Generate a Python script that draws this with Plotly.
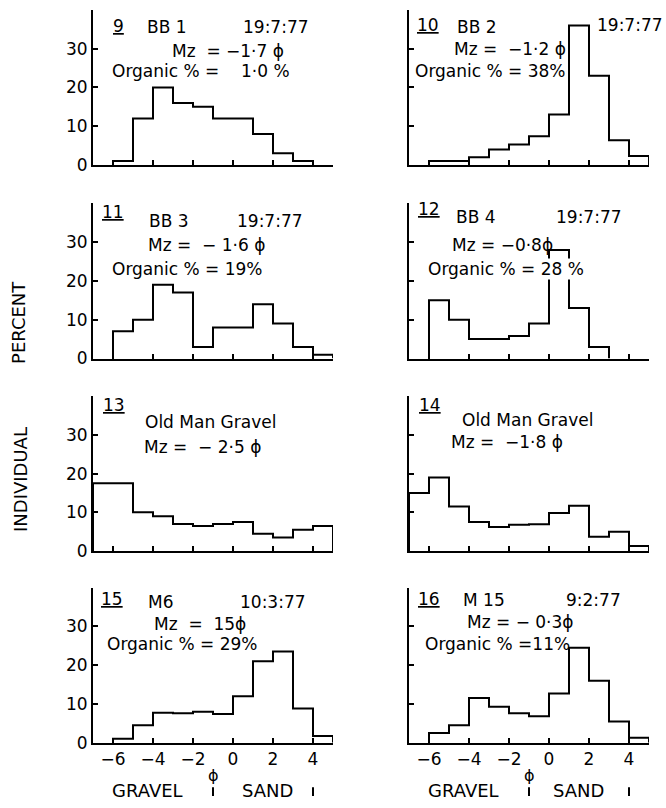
import plotly.graph_objects as go

W, H = 666, 808

# ---------------- data ----------------
panel_ids = ["9", "10", "11", "12", "13", "14", "15", "16"]
sites = ["BB 1", "BB 2", "BB 3", "BB 4", "Old Man Gravel", "Old Man Gravel", "M6", "M 15"]
dates = ["19:7:77", "19:7:77", "19:7:77", "19:7:77", "", "", "10:3:77", "9:2:77"]
mz_text = ["Mz  = −1·7 ϕ", "Mz =  −1·2 ϕ", "Mz =  − 1·6 ϕ", "Mz = −0·8ϕ",
           "Mz =  − 2·5 ϕ", "Mz =  −1·8 ϕ", "Mz  =  15ϕ", "Mz = − 0·3ϕ"]
organic_text = ["Organic % =    1·0 %", "Organic % = 38%", "Organic % = 19%",
                "Organic % = 28 %", "", "", "Organic % = 29%", "Organic % =11%"]

# lower phi edge of first class, and percent in each 1-phi class
p9_start, p9_vals = -6, [1, 12, 20, 16, 15, 12, 12, 8, 3, 1]
p10_start, p10_vals = -6, [1, 1, 2, 4, 5.3, 7.4, 13, 36, 23, 6.4, 2.3]
p11_start, p11_vals = -6, [7, 10, 19, 17, 3, 8, 8, 14, 9, 3, 1]
p12_start, p12_vals = -6, [15, 10, 5, 5, 5.8, 9, 28, 13, 3]
p13_start, p13_vals = -7, [17.5, 17.5, 10, 9, 7, 6.5, 7, 7.5, 4.5, 3.5, 5.5, 6.5]
p14_start, p14_vals = -7, [15, 19, 11.5, 7.5, 6.2, 6.8, 6.9, 9.8, 11.7, 3.7, 5, 1.3]
p15_start, p15_vals = -6, [1, 4.5, 7.7, 7.6, 8, 7.4, 12, 21, 23.5, 8.8, 1.7]
p16_start, p16_vals = -6, [2.5, 4.5, 11.5, 9.3, 7.6, 6.8, 12.7, 24.5, 16, 5.5, 1.3]

starts = [p9_start, p10_start, p11_start, p12_start, p13_start, p14_start, p15_start, p16_start]
values = [p9_vals, p10_vals, p11_vals, p12_vals, p13_vals, p14_vals, p15_vals, p16_vals]

x_tickvals = [-6, -4, -2, 0, 2, 4]
x_ticktext = ["−6", "−4", "−2", "0", "2", "4"]
y_tickvals = [0, 10, 20, 30]
y_ticktext = ["0", "10", "20", "30"]
boundaries = [-1, 4]   # gravel/sand and sand/mud class limits (phi)

# ---------------- layout geometry (pixels) ----------------
col_left = [93, 409]
col_w = 240
row_base = [167, 363, 558, 752]
row_h = 157

FONT = "DejaVu Sans"
TS = 17
fig = go.Figure()
annotations = []
shapes = []


def px(x):
    return x / W


def py(y):
    return 1 - y / H


layout_axes = {}
for i in range(8):
    r, c = divmod(i, 2)
    n = i + 1
    xs, ys = ("x" if n == 1 else f"x{n}"), ("y" if n == 1 else f"y{n}")
    s, v = starts[i], values[i]
    edges = [s + k for k in range(len(v) + 1)]
    xx = [edges[0]] + edges[:-1] + [edges[-1]]
    yy = [0] + v + [0]
    fig.add_trace(go.Scatter(x=xx, y=yy, mode="lines", line=dict(color="black", width=2, shape="hv"),
                             xaxis=xs, yaxis=ys, showlegend=False, hoverinfo="skip"))
    layout_axes[f"xaxis{n if n > 1 else ''}"] = dict(
        domain=[px(col_left[c]), px(col_left[c] + col_w)], range=[-7, 5], anchor=ys,
        showline=True, linecolor="black", linewidth=2, ticks="inside", ticklen=5, tickwidth=2,
        tickcolor="black", tickvals=x_tickvals, ticktext=x_ticktext, showticklabels=(r == 3),
        showgrid=False, zeroline=False, tickfont=dict(family=FONT, size=17, color="black"))
    layout_axes[f"yaxis{n if n > 1 else ''}"] = dict(
        domain=[py(row_base[r]), py(row_base[r] - row_h)], range=[0, 40], anchor=xs,
        showline=True, linecolor="black", linewidth=2, ticks="inside", ticklen=5, tickwidth=2,
        tickcolor="black", tickvals=y_tickvals, ticktext=y_ticktext, showticklabels=(c == 0),
        showgrid=False, zeroline=False, tickfont=dict(family=FONT, size=17, color="black"))

# text positions (pixels)
id_pos = [(118, 26), (428, 25), (113, 215), (429, 212), (114, 410), (430, 410), (112, 607), (429, 607)]
site_pos = [(167, 27), (477, 27), (169, 224), (476, 220), (210, 427), (527, 425), (160, 610), (484, 608)]
date_pos = [(276, 27), (630, 25), (270, 224), (589, 220), None, None, (273, 610), (593, 608)]
mz_pos = [(228, 52), (510, 50), (206, 248), (502, 248), (202, 453), (507, 448), (200, 632), (520, 630)]
org_pos = [(201, 72), (490, 72), (187, 272), (506, 272), None, None, (182, 652), (497, 652)]


def ann(text, x, y, size=TS, bg=None, angle=0):
    d = dict(text=text, x=px(x), y=py(y), xref="paper", yref="paper", showarrow=False,
             xanchor="center", yanchor="middle", textangle=angle,
             font=dict(family=FONT, size=size, color="black"))
    if bg:
        d["bgcolor"] = bg
        d["borderpad"] = 0
    annotations.append(d)


for i in range(8):
    ann(f"<u>{panel_ids[i]}</u>", *id_pos[i])
    ann(sites[i], *site_pos[i])
    if date_pos[i]:
        ann(dates[i], *date_pos[i])
    ann(mz_text[i], *mz_pos[i])
    if org_pos[i]:
        ann(organic_text[i], *org_pos[i], bg="white" if i == 3 else None)

ann("PERCENT", 19, 327, size=18, angle=-90)
ann("INDIVIDUAL", 21, 486, size=18, angle=-90)

for c, xa in enumerate(["x7", "x8"]):
    base = col_left[c]
    ann("ϕ", base + 20 * (boundaries[0] + 7), 785, size=16)
    ann("GRAVEL", 147 + 316 * c, 800, size=18)
    ann("SAND", 267 + 311 * c, 800, size=18)
    for b in boundaries:
        shapes.append(dict(type="line", xref=xa, yref="paper", x0=b, x1=b,
                           y0=py(806), y1=py(797), line=dict(color="black", width=2)))

fig.update_layout(width=W, height=H, margin=dict(l=0, r=0, t=0, b=0),
                  paper_bgcolor="white", plot_bgcolor="white",
                  annotations=annotations, shapes=shapes, **layout_axes)

fig.write_html("out.html")
